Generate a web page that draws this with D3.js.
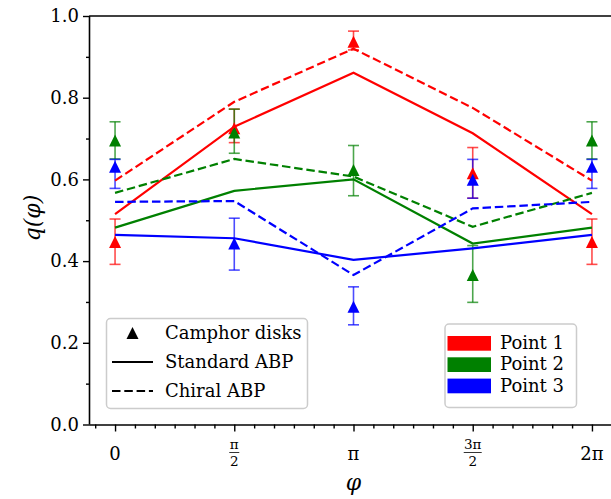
<!DOCTYPE html>
<html>
<head>
<meta charset="utf-8">
<script src="https://cdn.jsdelivr.net/npm/d3@7"></script>
<style>
  body { margin: 0; background: #fff; }
  svg { display: block; }
  text { font-family: "DejaVu Serif", serif; fill: #000; }
</style>
</head>
<body>
<div id="vis"></div>
<script>
const WIDTH = 611;
const HEIGHT = 499;
const PI = Math.PI;

// angles where things were measured
const phis = [0, PI / 2, PI, 3 * PI / 2, 2 * PI];
const seriesNames = ["Point 1", "Point 2", "Point 3"];
const seriesColors = ["#ff0000", "#008000", "#0000ff"];

// camphor disk measurements (triangles) + error bar ends
const campMean = [
  [0.447, 0.725, 0.937, 0.615, 0.447],
  [0.695, 0.715, 0.623, 0.366, 0.695],
  [0.631, 0.443, 0.288, 0.599, 0.631]
];
const campLow = [
  [0.392, 0.690, 0.917, 0.554, 0.392],
  [0.650, 0.664, 0.560, 0.299, 0.650],
  [0.578, 0.378, 0.244, 0.554, 0.578]
];
const campHigh = [
  [0.503, 0.772, 0.963, 0.678, 0.503],
  [0.741, 0.772, 0.683, 0.438, 0.741],
  [0.649, 0.505, 0.337, 0.649, 0.649]
];

// model curves
const standardABP = [
  [0.515, 0.729, 0.861, 0.713, 0.515],
  [0.482, 0.572, 0.600, 0.443, 0.482],
  [0.464, 0.456, 0.403, 0.431, 0.464]
];
const chiralABP = [
  [0.597, 0.790, 0.920, 0.775, 0.597],
  [0.567, 0.650, 0.607, 0.484, 0.567],
  [0.545, 0.547, 0.366, 0.529, 0.545]
];

const yTicks = [0, 0.2, 0.4, 0.6, 0.8, 1.0];
const xTickLabels = [
  {v: 0, num: "0"},
  {v: PI / 2, num: "π", den: "2"},
  {v: PI, num: "π"},
  {v: 3 * PI / 2, num: "3π", den: "2"},
  {v: 2 * PI, num: "2π"}
];

const DASH = "8.5,3.8";

const svg = d3.select("#vis").append("svg")
  .attr("width", WIDTH)
  .attr("height", HEIGHT);

const X = d3.scaleLinear().domain([-0.33, 2 * PI + 0.33]).range([90, 617]);
const Y = d3.scaleLinear().domain([0, 1]).range([424.5, 16]);

// error bars first
seriesNames.forEach((name, s) => {
  const g = svg.append("g").attr("stroke", seriesColors[s]).attr("stroke-opacity", 0.7)
    .attr("stroke-width", 1.6);
  phis.forEach((p, i) => {
    const x = X(p);
    g.append("line").attr("x1", x).attr("x2", x)
      .attr("y1", Y(campLow[s][i])).attr("y2", Y(campHigh[s][i]));
    [campLow[s][i], campHigh[s][i]].forEach(v => {
      g.append("line").attr("x1", x - 5.5).attr("x2", x + 5.5)
        .attr("y1", Y(v)).attr("y2", Y(v));
    });
  });
});

function triangle(cx, cy, h) {
  return `M${cx},${cy - h / 2}L${cx - h / 2},${cy + h / 2}L${cx + h / 2},${cy + h / 2}Z`;
}

seriesNames.forEach((name, s) => {
  phis.forEach((p, i) => {
    svg.append("path")
      .attr("d", triangle(X(p), Y(campMean[s][i]), 12))
      .attr("fill", seriesColors[s]);
  });
});

const line = d3.line().x((d, i) => X(phis[i])).y(d => Y(d));

seriesNames.forEach((name, s) => {
  svg.append("path").datum(standardABP[s])
    .attr("d", line).attr("fill", "none")
    .attr("stroke", seriesColors[s]).attr("stroke-width", 2.2);
  svg.append("path").datum(chiralABP[s])
    .attr("d", line).attr("fill", "none")
    .attr("stroke", seriesColors[s]).attr("stroke-width", 2.2)
    .attr("stroke-dasharray", DASH);
});

// axes
const xAxis = svg.append("g").attr("transform", `translate(0,${Y(0)})`)
  .call(d3.axisBottom(X).tickValues(phis).tickSize(7).tickFormat(""));
const minorX = d3.range(-1, 26).map(k => k * PI / 12).filter(v => X(v) >= 90 && v % (PI / 2) !== 0);
svg.append("g").attr("transform", `translate(0,${Y(0)})`)
  .call(d3.axisBottom(X).tickValues(minorX).tickSize(4).tickFormat(""))
  .call(g => g.select(".domain").remove());

const yAxis = svg.append("g").attr("transform", `translate(90,0)`)
  .call(d3.axisLeft(Y).tickValues(yTicks).tickSize(7).tickFormat(d3.format(".1f")).tickPadding(4));
svg.append("g").attr("transform", `translate(90,0)`)
  .call(d3.axisLeft(Y).tickValues([0.1, 0.3, 0.5, 0.7, 0.9]).tickSize(4).tickFormat(""))
  .call(g => g.select(".domain").remove());

svg.selectAll(".domain").attr("stroke-width", 1.6);
svg.selectAll(".tick line").attr("stroke-width", 1.4);
yAxis.selectAll("text").style("font-size", "18px").style("font-family", "DejaVu Serif");
xAxis.select(".domain").attr("d", `M90,0.5H617`);
yAxis.select(".domain").attr("d", `M-0.5,${Y(0)}V${Y(1)}`);

// top spine
svg.append("line").attr("x1", 89.2).attr("x2", 617).attr("y1", Y(1)).attr("y2", Y(1))
  .attr("stroke", "#000").attr("stroke-width", 1.6);

// x tick labels, fractions drawn by hand
xTickLabels.forEach(t => {
  const x = X(t.v);
  if (!t.den) {
    svg.append("text").attr("x", x).attr("y", 460).attr("text-anchor", "middle")
      .style("font-size", "18px").text(t.num);
  } else {
    svg.append("text").attr("x", x).attr("y", 449).attr("text-anchor", "middle")
      .style("font-size", "13.5px").text(t.num);
    const w = t.num.length > 1 ? 18 : 10;
    svg.append("line").attr("x1", x - w / 2).attr("x2", x + w / 2)
      .attr("y1", 452.5).attr("y2", 452.5).attr("stroke", "#000").attr("stroke-width", 0.8);
    svg.append("text").attr("x", x).attr("y", 466).attr("text-anchor", "middle")
      .style("font-size", "13.5px").text(t.den);
  }
});

// axis labels
svg.append("text").attr("x", X(PI)).attr("y", 490).attr("text-anchor", "middle")
  .style("font-size", "22px").style("font-style", "italic").text("φ");
svg.append("text").attr("transform", "translate(40,218) rotate(-90)")
  .attr("text-anchor", "middle").style("font-size", "22px").style("font-style", "italic")
  .text("q(φ)");

// legend: marker / line styles
const leg1 = svg.append("g");
leg1.append("rect").attr("x", 106.5).attr("y", 318.5).attr("width", 201).attr("height", 90)
  .attr("rx", 4).attr("fill", "#fff").attr("fill-opacity", 0.8)
  .attr("stroke", "#cccccc").attr("stroke-width", 1.5);
leg1.append("path").attr("d", triangle(132.5, 333, 12)).attr("fill", "#000");
leg1.append("line").attr("x1", 112).attr("x2", 153).attr("y1", 362).attr("y2", 362)
  .attr("stroke", "#000").attr("stroke-width", 2.2);
leg1.append("line").attr("x1", 112).attr("x2", 153).attr("y1", 391).attr("y2", 391)
  .attr("stroke", "#000").attr("stroke-width", 2.2).attr("stroke-dasharray", DASH);
["Camphor disks", "Standard ABP", "Chiral ABP"].forEach((t, i) => {
  leg1.append("text").attr("x", 165).attr("y", 339 + i * 29)
    .style("font-size", "18px").text(t);
});

// legend: colours
const leg2 = svg.append("g");
leg2.append("rect").attr("x", 445).attr("y", 324).attr("width", 131.5).attr("height", 83.5)
  .attr("rx", 4).attr("fill", "#fff").attr("fill-opacity", 0.8)
  .attr("stroke", "#cccccc").attr("stroke-width", 1.5);
seriesNames.forEach((name, s) => {
  const yy = 336 + s * 21.3;
  leg2.append("rect").attr("x", 447.5).attr("y", yy).attr("width", 43.5).attr("height", 14.7)
    .attr("fill", seriesColors[s]);
  leg2.append("text").attr("x", 500).attr("y", yy + 13).style("font-size", "18px").text(name);
});
</script>
</body>
</html>
